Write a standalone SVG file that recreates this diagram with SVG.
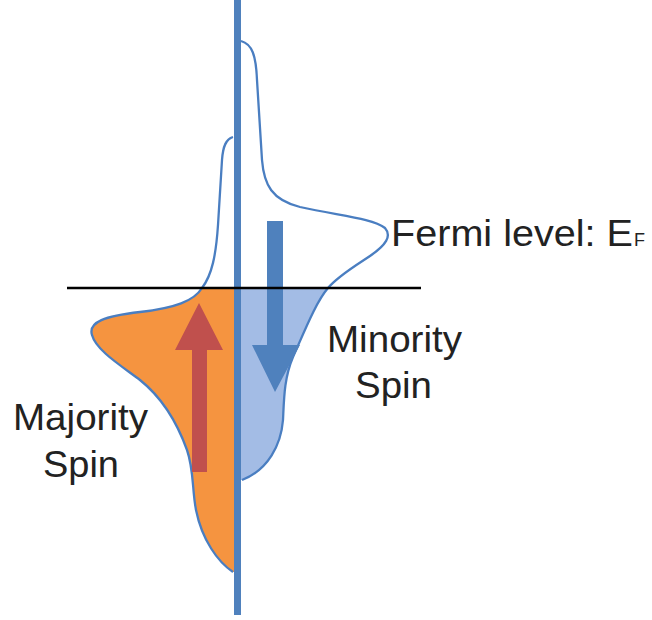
<svg xmlns="http://www.w3.org/2000/svg" width="652" height="620" viewBox="0 0 652 620">
<style>
.curve{fill:none;stroke:#4A7EC1;stroke-width:2.3}
.lbl{font-family:"Liberation Sans",Arial,sans-serif;font-size:36px;fill:#222}
</style>
<rect width="652" height="620" fill="#fff"/>
<g id="majority-dos">
<path d="M237,288 L202,288 C194,301 175,308 140,312 C105,316 88,322 92,335 C96,350 120,365 140,380 C165,400 178,425 187,450 C194,470 192,490 196,510 C202,540 218,562 233,572 L237,572 Z" fill="#F59440"/>
<path class="curve" d="M233,137 C226,139 223,146 222,160 L218,225 C216,255 212,275 202,288 C194,301 175,308 140,312 C105,316 88,322 92,335 C96,350 120,365 140,380 C165,400 178,425 187,450 C194,470 192,490 196,510 C202,540 218,562 233,572"/>
</g>
<g id="minority-dos">
<path d="M237,288 L328,288 C316,302 305,330 293,357 C284,378 284,400 283,420 C281,445 268,470 242,480 L237,480 Z" fill="#A3BCE5"/>
<path class="curve" d="M241,41 C252,44 256,55 257,80 L262,160 C264,185 272,200 300,207 C340,216 372,218 385,228 C392,236 386,245 370,256 C355,266 338,276 328,288 C316,302 305,330 293,357 C284,378 284,400 283,420 C281,445 268,470 242,480"/>
</g>
<g id="majority-arrow">
<path d="M192,472 L192,350 L175,350 L199,303 L223,350 L207,350 L207,472 Z" fill="#C0504D"/>
</g>
<g id="minority-arrow">
<path d="M267,221 L283,221 L283,345 L300,345 L275,392 L252,345 L267,345 Z" fill="#4F81BD"/>
</g>
<g id="axis">
<rect x="234" y="0" width="7" height="615" fill="#4F81BD"/>
</g>
<g id="fermi-line">
<line x1="67" y1="288" x2="421" y2="288" stroke="#000" stroke-width="2.6"/>
</g>
<g id="labels">
<text class="lbl" x="391" y="246" textLength="242" lengthAdjust="spacingAndGlyphs">Fermi level: E</text>
<text class="lbl" x="634" y="246" style="font-size:18px">F</text>
<text class="lbl" x="327" y="352" textLength="135" lengthAdjust="spacingAndGlyphs">Minority</text>
<text class="lbl" x="355" y="398" textLength="77" lengthAdjust="spacingAndGlyphs">Spin</text>
<text class="lbl" x="13" y="430" textLength="135" lengthAdjust="spacingAndGlyphs">Majority</text>
<text class="lbl" x="43" y="477" textLength="76" lengthAdjust="spacingAndGlyphs">Spin</text>
</g>
</svg>
